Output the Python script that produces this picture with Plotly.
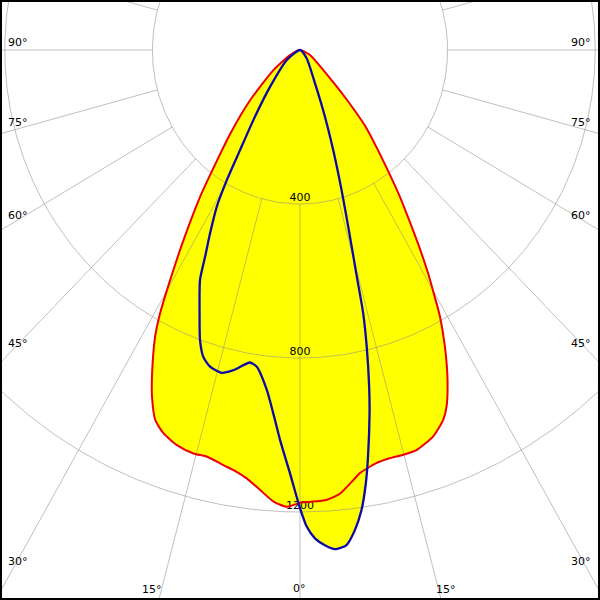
import numpy as np
import plotly.graph_objects as go

# ---- data (polar: angle in degrees from nadir, intensity in cd) ----
# C0-C180 plane (red)
red_angles = [-90, -64, -54, -46, -41, -37, -35.4, -32.6, -30.5, -29, -27.8, -25.5, -24,
              -22.2, -20.4, -18, -15.4, -13.4, -10.9, -8.9, -7.4, -5.4, -3.5, -1.7, 0,
              1.3, 3.5, 5.4, 7.4, 8.4, 10.9, 12.9, 14.9, 16.9, 19.75, 22, 23.2, 25, 27,
              28.7, 30, 30.9, 32.2, 33.7, 35.4, 37.0, 39.1, 41.8, 44.0, 47.1, 64, 90]
red_cd = [0, 30, 89, 188, 288, 402, 467, 586, 693, 782, 842, 931, 986,
          1038, 1062, 1079, 1087, 1086, 1098, 1109, 1122, 1148, 1175, 1187, 1176,
          1174, 1171, 1157, 1126, 1111, 1093, 1088, 1088, 1086, 1067, 1036, 1008, 946, 865,
          790, 720, 676, 609, 536, 467, 403, 335, 265, 195, 122, 30, 0]

# C90-C270 plane (blue)
blue_angles = [-90, -54.2, -40.4, -34.8, -32.0, -30.4, -29.0, -27.1, -25.6, -24.4, -21.7,
               -19.8, -18.2, -16.5, -14.2, -12.25, -9.5, -8.1, -5.8, -4.4, -3.06, -1.41, 0,
               0.84, 1.83, 3.0, 4.18, 5.6, 6.8, 7.95, 9.0, 9.9, 11.3, 12.1, 13.2, 14.06,
               14.66, 15.9, 17.2, 19.1, 21.3, 25.1, 40, 90]
blue_cd = [0, 44, 125, 221, 306, 392, 465, 535, 595, 656, 736,
           800, 839, 858, 865, 851, 823, 831, 888, 946, 1014, 1100, 1190,
           1238, 1269, 1288, 1300, 1292, 1256, 1206, 1140, 1072, 962, 894, 792, 705,
           609, 477, 381, 275, 186, 96, 28, 0]

ring_values = [400, 800, 1200]
ring_labels = ["400", "800", "1200"]
edge_labels = ["90°", "75°", "60°", "45°", "30°", "15°", "0°", "15°", "30°", "45°", "60°", "75°", "90°"]


def to_xy(ang, r):
    a = np.radians(np.asarray(ang, float))
    r = np.asarray(r, float)
    return r * np.sin(a), -r * np.cos(a)


rx, ry = to_xy(red_angles, red_cd)
bx, by = to_xy(blue_angles, blue_cd)

SM = 0.6
FONT = "DejaVu Sans"

fig = go.Figure()

# yellow fills
fig.add_trace(go.Scatter(x=rx, y=ry, mode="lines", fill="toself", fillcolor="#ffff00",
                         line=dict(width=0, color="#ffff00", shape="spline", smoothing=SM),
                         hoverinfo="skip"))
fig.add_trace(go.Scatter(x=bx, y=by, mode="lines", fill="toself", fillcolor="#ffff00",
                         line=dict(width=0, color="#ffff00", shape="spline", smoothing=SM),
                         hoverinfo="skip"))

# grid: circles
grid_col = "rgba(140,140,140,0.55)"
t = np.linspace(0, 360, 721)
cx, cy = [], []
for v in ring_values:
    x, y = to_xy(t, np.full_like(t, v))
    cx += list(x) + [None]
    cy += list(y) + [None]
fig.add_trace(go.Scatter(x=cx, y=cy, mode="lines", line=dict(color=grid_col, width=1),
                         hoverinfo="skip"))
# grid: radial spokes every 15 deg, starting at the first ring
sx, sy = [], []
for a in range(0, 360, 15):
    x, y = to_xy([a, a], [ring_values[0], 3000])
    sx += list(x) + [None]
    sy += list(y) + [None]
fig.add_trace(go.Scatter(x=sx, y=sy, mode="lines", line=dict(color=grid_col, width=1),
                         hoverinfo="skip"))

# ring labels (just above each ring on the nadir spoke)
fig.add_trace(go.Scatter(x=[0] * len(ring_values), y=[-v + 16 for v in ring_values],
                         mode="text", text=ring_labels,
                         textfont=dict(family=FONT, size=11, color="black"),
                         hoverinfo="skip"))

# curves
fig.add_trace(go.Scatter(x=rx, y=ry, mode="lines",
                         line=dict(color="#ee0000", width=2, shape="spline", smoothing=SM),
                         hoverinfo="skip"))
fig.add_trace(go.Scatter(x=bx, y=by, mode="lines",
                         line=dict(color="#0a0aa8", width=2.3, shape="spline", smoothing=SM),
                         hoverinfo="skip"))

# edge angle labels (pixel positions in the 600x600 frame)
label_pos = [(18, 42), (18, 122), (18, 215), (18, 343), (18, 561), (152, 589), (299, 588),
             (446, 589), (581, 561), (581, 343), (581, 215), (581, 122), (581, 42)]
annotations = []
for txt, (px, py) in zip(edge_labels, label_pos):
    annotations.append(dict(x=px / 600, y=1 - py / 600, xref="paper", yref="paper",
                            text=txt, showarrow=False, xanchor="center", yanchor="middle",
                            font=dict(family=FONT, size=11, color="black")))

kx = 0.369   # px per cd horizontally
ky = 0.385   # px per cd vertically
fig.update_layout(
    width=600, height=600,
    margin=dict(l=0, r=0, t=0, b=0),
    paper_bgcolor="white", plot_bgcolor="white",
    showlegend=False,
    xaxis=dict(range=[-300 / kx, 300 / kx], visible=False, showgrid=False, zeroline=False),
    yaxis=dict(range=[-550 / ky, 50 / ky], visible=False, showgrid=False, zeroline=False),
    annotations=annotations,
    shapes=[dict(type="rect", xref="paper", yref="paper", x0=0, y0=0, x1=1, y1=1,
                 line=dict(color="black", width=4))],
)

fig.write_html("out.html", config={"displayModeBar": False, "staticPlot": True},
               post_script="document.body.style.margin='0';document.body.style.overflow='hidden';")
